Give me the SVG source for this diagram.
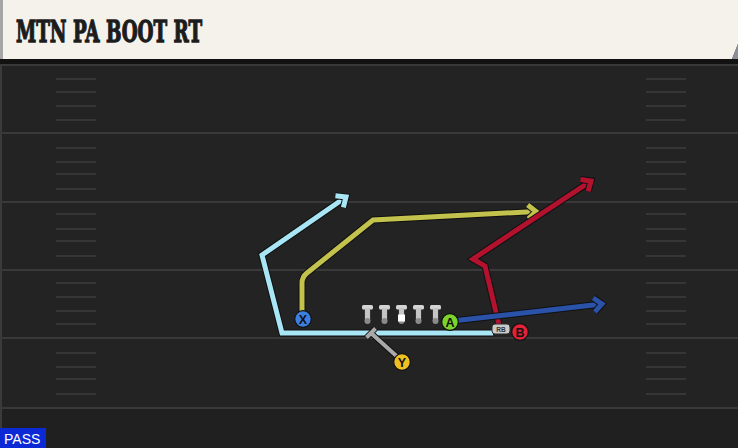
<svg xmlns="http://www.w3.org/2000/svg" width="738" height="448" viewBox="0 0 738 448">
<defs>
<style>
.yard{stroke:#393939;stroke-width:2}
.hash{stroke:#363636;stroke-width:2}
.out{fill:none;stroke:#111;stroke-width:7;stroke-linejoin:miter}
.rt{fill:none;stroke-width:5;stroke-linejoin:miter}
.pl{stroke:#111;stroke-width:1.2}
.lbl{font-family:"Liberation Sans",Arial,sans-serif;font-weight:bold;font-size:12.5px;fill:#111;text-anchor:middle}
</style>
<marker id="ahLB" markerUnits="userSpaceOnUse" viewBox="-14 -12 18 24" markerWidth="18" markerHeight="24" refX="0" refY="0" orient="auto" overflow="visible">
<path d="M-8,-7 L0,0 L-8,7" fill="none" stroke="#111" stroke-width="7"/>
<path d="M-8,-7 L0,0 L-8,7" fill="none" stroke="#a8e6f6" stroke-width="5"/>
</marker>
<marker id="ahYL" markerUnits="userSpaceOnUse" viewBox="-14 -12 18 24" markerWidth="18" markerHeight="24" refX="0" refY="0" orient="auto" overflow="visible">
<path d="M-8,-7 L0,0 L-8,7" fill="none" stroke="#111" stroke-width="7"/>
<path d="M-8,-7 L0,0 L-8,7" fill="none" stroke="#c2c24c" stroke-width="5"/>
</marker>
<marker id="ahRD" markerUnits="userSpaceOnUse" viewBox="-14 -12 18 24" markerWidth="18" markerHeight="24" refX="0" refY="0" orient="auto" overflow="visible">
<path d="M-8,-7 L0,0 L-8,7" fill="none" stroke="#111" stroke-width="7"/>
<path d="M-8,-7 L0,0 L-8,7" fill="none" stroke="#b3122f" stroke-width="5"/>
</marker>
<marker id="ahBL" markerUnits="userSpaceOnUse" viewBox="-14 -12 18 24" markerWidth="18" markerHeight="24" refX="0" refY="0" orient="auto" overflow="visible">
<path d="M-8,-7 L0,0 L-8,7" fill="none" stroke="#111" stroke-width="7"/>
<path d="M-8,-7 L0,0 L-8,7" fill="none" stroke="#2a52a8" stroke-width="5"/>
</marker>
<g id="lineman">
<rect x="-5.5" y="305" width="11" height="4.5" rx="1.5" fill="#d4d4d4"/>
<rect x="-2.6" y="308" width="5.2" height="13" fill="#c4c4c4"/>
<circle cx="0" cy="321" r="3" fill="#8a8a8a"/>
</g>
</defs>

<!-- field -->
<rect x="0" y="0" width="738" height="448" fill="#232323"/>
<rect x="0" y="408" width="738" height="40" fill="#202020"/>
<rect x="0" y="60" width="2" height="388" fill="#3a3a3a"/>
<g id="yardlines">
<line class="yard" x1="0" y1="65" x2="738" y2="65"/>
<line class="yard" x1="0" y1="133" x2="738" y2="133"/>
<line class="yard" x1="0" y1="202" x2="738" y2="202"/>
<line class="yard" x1="0" y1="270" x2="738" y2="270"/>
<line class="yard" x1="0" y1="338" x2="738" y2="338"/>
<line class="yard" x1="0" y1="408" x2="738" y2="408"/>
</g>
<g id="hashes">
<path class="hash" d="M56,79H96M56,92H96M56,106H96M56,120H96M56,148H96M56,162H96M56,174H96M56,189H96M56,214H96M56,229H96M56,241H96M56,256H96M56,283H96M56,297H96M56,311H96M56,324H96M56,353H96M56,367H96M56,379H96M56,394H96"/>
<path class="hash" d="M646,79H686M646,92H686M646,106H686M646,120H686M646,148H686M646,162H686M646,174H686M646,189H686M646,214H686M646,229H686M646,241H686M646,256H686M646,283H686M646,297H686M646,311H686M646,324H686M646,353H686M646,367H686M646,379H686M646,394H686"/>
</g>

<!-- title bar -->
<g id="title">
<rect x="0" y="58" width="738" height="6" fill="#121212"/>
<path d="M0,0 H738 V44 L732,59 H0 Z" fill="#f5f2eb"/>
<path d="M738,44 L732,59 H738 Z" fill="#8a8f96"/>
<rect x="0" y="0" width="3" height="59" fill="#a5a5a5"/>
<text x="16" y="42" font-family="'DejaVu Serif',serif" font-weight="bold" font-size="29" textLength="186" lengthAdjust="spacingAndGlyphs" fill="#1c1c1c" stroke="#1c1c1c" stroke-width="1.3" stroke-linejoin="miter">MTN PA BOOT RT</text>
</g>

<!-- connectors -->
<g id="routes">
<path class="out" d="M493,333 L282,333 L262,255 L346,197"/>
<path class="rt" stroke="#a8e6f6" d="M493,333 L282,333 L262,255 L346,197" marker-end="url(#ahLB)"/>

<path class="out" d="M302,313 L302,283 Q302,277 307,273 L373,220 L536,211.5"/>
<path class="rt" stroke="#c2c24c" d="M302,313 L302,283 Q302,277 307,273 L373,220 L536,211.5" marker-end="url(#ahYL)"/>

<path class="out" d="M499,325 L485,266 L473,259 L591,181"/>
<path class="rt" stroke="#b3122f" d="M499,325 L485,266 L473,259 L591,181" marker-end="url(#ahRD)"/>

<path class="out" d="M452,321 L602,304"/>
<path class="rt" stroke="#2a52a8" d="M452,321 L602,304" marker-end="url(#ahBL)"/>

<path d="M402,361 L371,333 M375.5,328.5 L366.5,337.5" fill="none" stroke="#111" stroke-width="6"/>
<path d="M402,361 L371,333 M375.5,328.5 L366.5,337.5" fill="none" stroke="#a9a9a9" stroke-width="4"/>
</g>

<!-- offensive line -->
<g id="oline">
<use href="#lineman" x="367.5"/>
<use href="#lineman" x="384.5"/>
<use href="#lineman" x="401.5"/>
<use href="#lineman" x="418.5"/>
<use href="#lineman" x="435.5"/>
<rect x="398" y="314.5" width="7" height="7" fill="#ffffff"/>
</g>

<g id="rb">
<rect x="492" y="324" width="18" height="10" rx="3" fill="#c9c9c9" stroke="#2a2a2a" stroke-width="1"/>
<text x="501" y="332" font-family="'Liberation Sans',Arial,sans-serif" font-weight="bold" font-size="6.5" fill="#333" text-anchor="middle">RB</text>
</g>

<g id="playerX">
<circle class="pl" cx="303" cy="319" r="8.3" fill="#3d7fe0"/>
<text class="lbl" x="303" y="323.5">X</text>
</g>
<g id="playerA">
<circle class="pl" cx="450" cy="322" r="8.3" fill="#7cd32a"/>
<text class="lbl" x="450" y="326.5">A</text>
</g>
<g id="playerB">
<circle class="pl" cx="520" cy="332" r="8.3" fill="#e22236"/>
<text class="lbl" x="520" y="336.5">B</text>
</g>
<g id="playerY">
<circle class="pl" cx="402" cy="362" r="8.3" fill="#efc021"/>
<text class="lbl" x="402" y="366.5">Y</text>
</g>

<g id="pass">
<rect x="0" y="428" width="46" height="20" fill="#0b2ad6"/>
<text x="4" y="444" font-family="'Liberation Sans',Arial,sans-serif" font-size="14" fill="#ffffff">PASS</text>
</g>
</svg>
